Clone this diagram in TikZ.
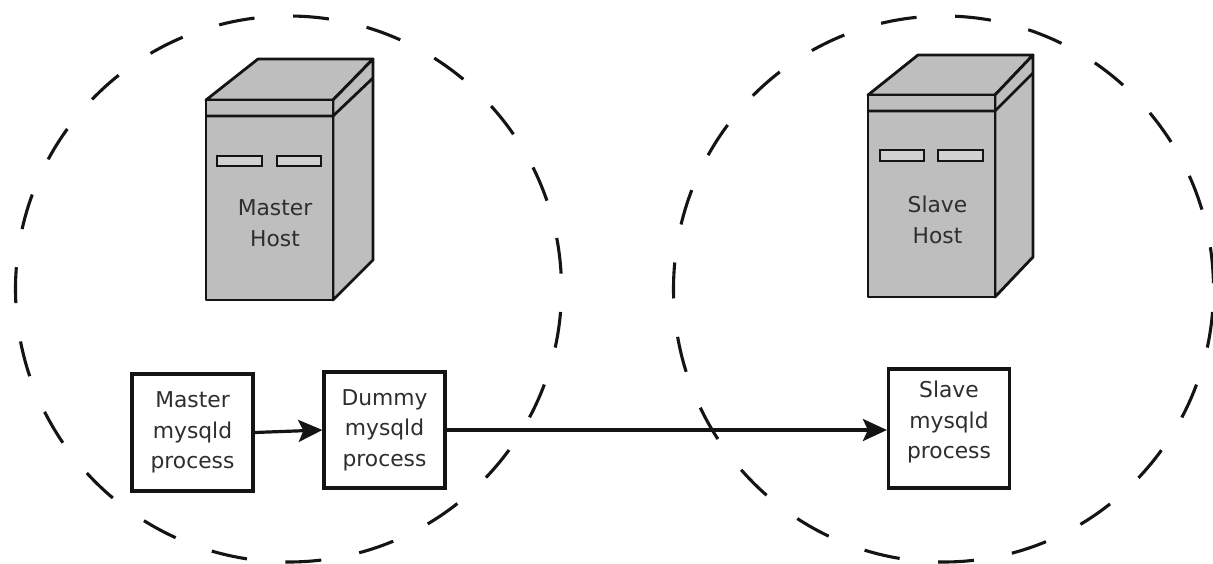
\documentclass[tikz,border=0pt]{standalone}
\usepackage{fontspec}
\setmainfont{DejaVu Sans}
\usetikzlibrary{arrows.meta}
\definecolor{srvfill}{HTML}{BEBEBE}
\definecolor{txtcol}{HTML}{2E2E2E}
\definecolor{linecol}{HTML}{141414}
\begin{document}
\begin{tikzpicture}[x=1pt,y=-1pt,
  zone/.style={draw=linecol,line width=3.1pt,dash pattern=on 36pt off 38.6pt,dash phase=51.6pt},
  srv/.style={draw=linecol,fill=srvfill,line width=2.8pt,line join=round},
  slot/.style={draw=linecol,fill=srvfill!70!white,line width=2.6pt},
  hosttext/.style={text=txtcol,align=center,inner sep=0pt,font=\fontsize{21.8pt}{31pt}\selectfont},
  procbox/.style={draw=linecol,fill=white,line width=3.2pt,minimum width=121pt,inner sep=0pt,
    text=txtcol,align=center,font=\fontsize{21.8pt}{30.5pt}\selectfont},
  flow/.style={draw=linecol,line width=3.2pt,-{Stealth[length=24pt,width=22pt,inset=5pt]}}]
\useasboundingbox (0,0) rectangle (1213,563);
\fill[white] (0,0) rectangle (1213,563);
% zones
\draw[zone] (288.5,289) circle[radius=273];
\draw[zone] (943.5,289) circle[x radius=270,y radius=273];
% master server
\filldraw[srv] (206,100) -- (258,59) -- (373,59) -- (333,100) -- cycle;
\filldraw[srv] (333,100) -- (373,59) -- (373,260) -- (333,300) -- cycle;
\filldraw[srv] (206,100) rectangle (333,300);
\draw[srv,fill=none] (206,116) -- (333,116) -- (373,78);
\filldraw[slot] (217,156) rectangle (262,166);
\filldraw[slot] (277,156) rectangle (321,166);
\node[hosttext] (mhost) at (275,223.6) {Master\\Host};
% slave server
\filldraw[srv] (868,95) -- (918,55) -- (1033,55) -- (995,95) -- cycle;
\filldraw[srv] (995,95) -- (1033,55) -- (1033,257) -- (995,297) -- cycle;
\filldraw[srv] (868,95) rectangle (995,297);
\draw[srv,fill=none] (868,111) -- (995,111) -- (1033,73);
\filldraw[slot] (880,150) rectangle (924,161);
\filldraw[slot] (938,150) rectangle (983,161);
\node[hosttext] (shost) at (937.5,220) {Slave\\Host};
% processes
\node[procbox,minimum height=117pt] (mproc) at (192.5,432.5) {Master\\mysqld\\process};
\node[procbox,minimum height=116pt] (dproc) at (384.5,430) {Dummy\\mysqld\\process};
\node[procbox,minimum height=119pt,text depth=17pt] (sproc) at (949,428.5) {Slave\\mysqld\\process};
% connectors
\draw[flow] (mproc.east) -- (dproc.west);
\draw[flow] (dproc.east) -- (dproc.east -| sproc.west);
\end{tikzpicture}
\end{document}
